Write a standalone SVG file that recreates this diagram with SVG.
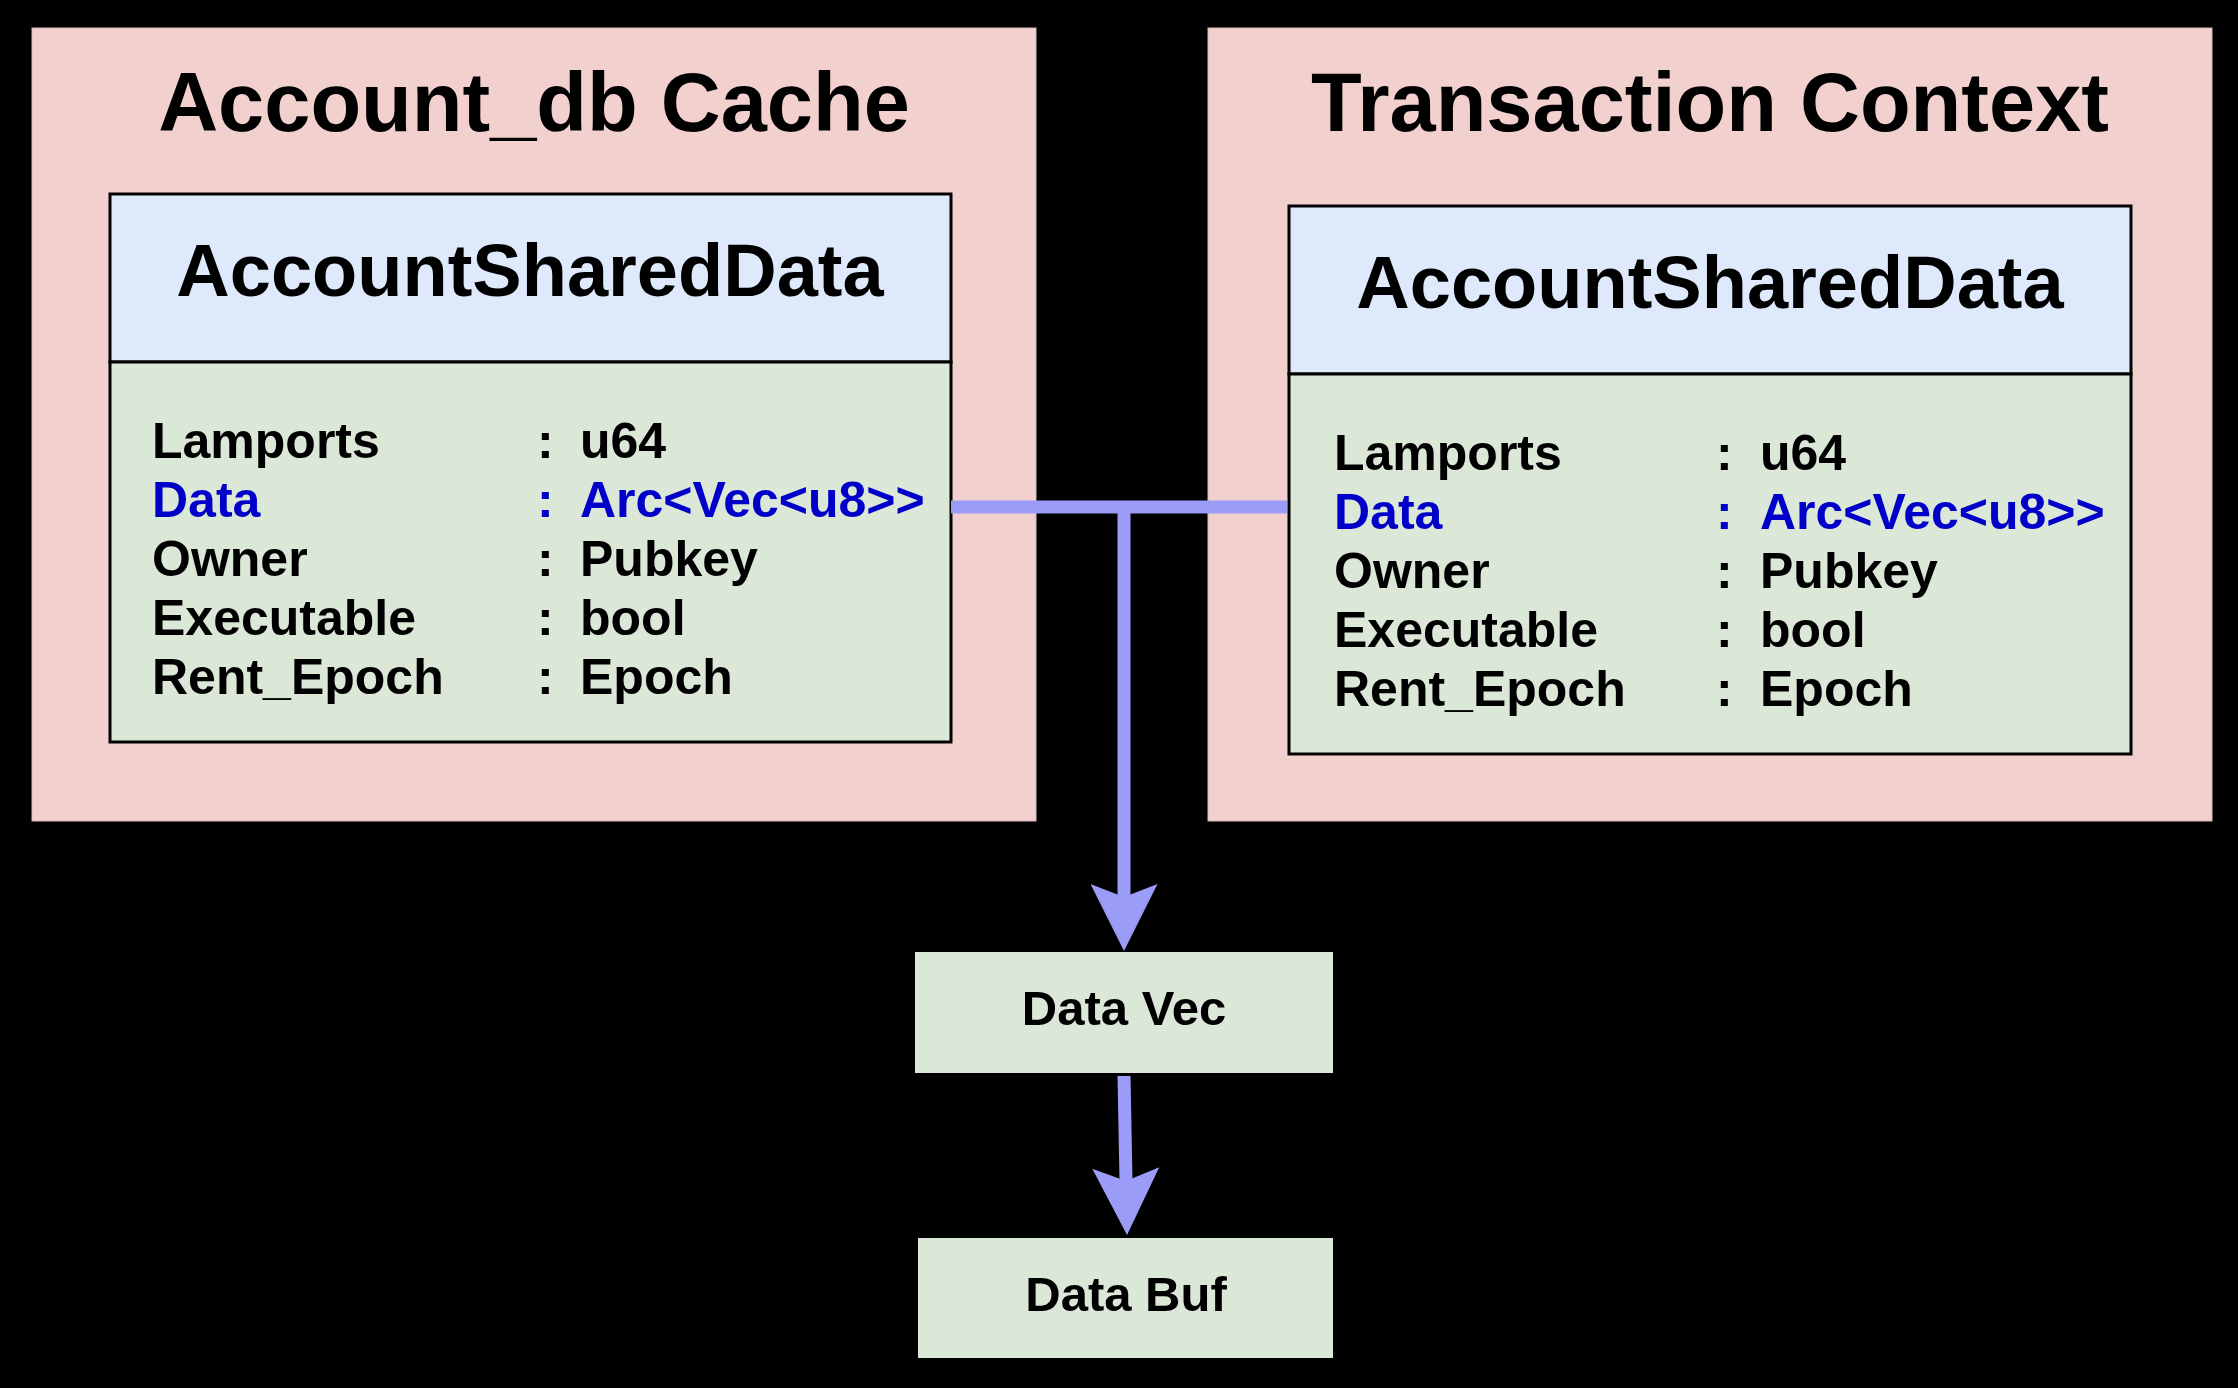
<svg xmlns="http://www.w3.org/2000/svg" width="2238" height="1388" viewBox="0 0 2238 1388">
<style>
.outer{fill:#f2d0ce;stroke:#d8bcba;stroke-width:1}
.hdr{fill:#dee9fb;stroke:#000;stroke-width:3}
.body{fill:#dbe7d7;stroke:#000;stroke-width:3}
.box{fill:#dbe7d7}
text{font-family:"Liberation Sans",Arial,Helvetica,sans-serif;font-weight:bold;fill:#000}
.title{font-size:83px;text-anchor:middle}
.head{font-size:74px;text-anchor:middle}
.row{font-size:50px}
.blue{fill:#0000c8}
.lbl{font-size:49px;text-anchor:middle}
.conn{stroke:#9a9cf7;stroke-width:13;fill:none}
</style>
<defs>
<marker id="arr" markerUnits="userSpaceOnUse" markerWidth="67" markerHeight="67" viewBox="0 0 67 67" refX="13" refY="33.5" orient="auto">
<path d="M0,0 L67,33.5 L0,67 L13,33.5 Z" fill="#9a9cf7"/>
</marker>
</defs>
<rect x="0" y="0" width="2238" height="1388" fill="#000"/>
<g id="account-db-cache">
<rect class="outer" x="32" y="28" width="1004" height="793"/>
<text class="title" x="534" y="131">Account_db Cache</text>
</g>
<g id="account-shared-data-left">
<rect class="hdr" x="110" y="194" width="841" height="168"/>
<rect class="body" x="110" y="362" width="841" height="380"/>
<text class="head" x="530" y="296">AccountSharedData</text>
<text class="row" x="152" y="458">Lamports</text><text class="row" x="537" y="458">:</text><text class="row" x="580" y="458">u64</text>
<text class="row blue" x="152" y="517">Data</text><text class="row blue" x="537" y="517">:</text><text class="row blue" x="580" y="517">Arc&lt;Vec&lt;u8&gt;&gt;</text>
<text class="row" x="152" y="576">Owner</text><text class="row" x="537" y="576">:</text><text class="row" x="580" y="576">Pubkey</text>
<text class="row" x="152" y="635">Executable</text><text class="row" x="537" y="635">:</text><text class="row" x="580" y="635">bool</text>
<text class="row" x="152" y="694">Rent_Epoch</text><text class="row" x="537" y="694">:</text><text class="row" x="580" y="694">Epoch</text>
</g>
<g id="transaction-context">
<rect class="outer" x="1208" y="28" width="1004" height="793"/>
<text class="title" x="1710" y="131">Transaction Context</text>
</g>
<g id="account-shared-data-right">
<rect class="hdr" x="1289" y="206" width="842" height="168"/>
<rect class="body" x="1289" y="374" width="842" height="380"/>
<text class="head" x="1710" y="308">AccountSharedData</text>
<text class="row" x="1334" y="470">Lamports</text><text class="row" x="1716" y="470">:</text><text class="row" x="1760" y="470">u64</text>
<text class="row blue" x="1334" y="529">Data</text><text class="row blue" x="1716" y="529">:</text><text class="row blue" x="1760" y="529">Arc&lt;Vec&lt;u8&gt;&gt;</text>
<text class="row" x="1334" y="588">Owner</text><text class="row" x="1716" y="588">:</text><text class="row" x="1760" y="588">Pubkey</text>
<text class="row" x="1334" y="647">Executable</text><text class="row" x="1716" y="647">:</text><text class="row" x="1760" y="647">bool</text>
<text class="row" x="1334" y="706">Rent_Epoch</text><text class="row" x="1716" y="706">:</text><text class="row" x="1760" y="706">Epoch</text>
</g>
<g id="data-vec">
<rect class="box" x="915" y="952" width="418" height="121"/>
<text class="lbl" x="1124" y="1025">Data Vec</text>
</g>
<g id="data-buf">
<rect class="box" x="918" y="1238" width="415" height="120"/>
<text class="lbl" x="1126" y="1311">Data Buf</text>
</g>
<g id="connectors">
<line class="conn" x1="951" y1="507" x2="1287" y2="507"/>
<line class="conn" x1="1124" y1="507" x2="1124" y2="897" marker-end="url(#arr)"/>
<line class="conn" x1="1124" y1="1076" x2="1126" y2="1181" marker-end="url(#arr)"/>
</g>
</svg>
